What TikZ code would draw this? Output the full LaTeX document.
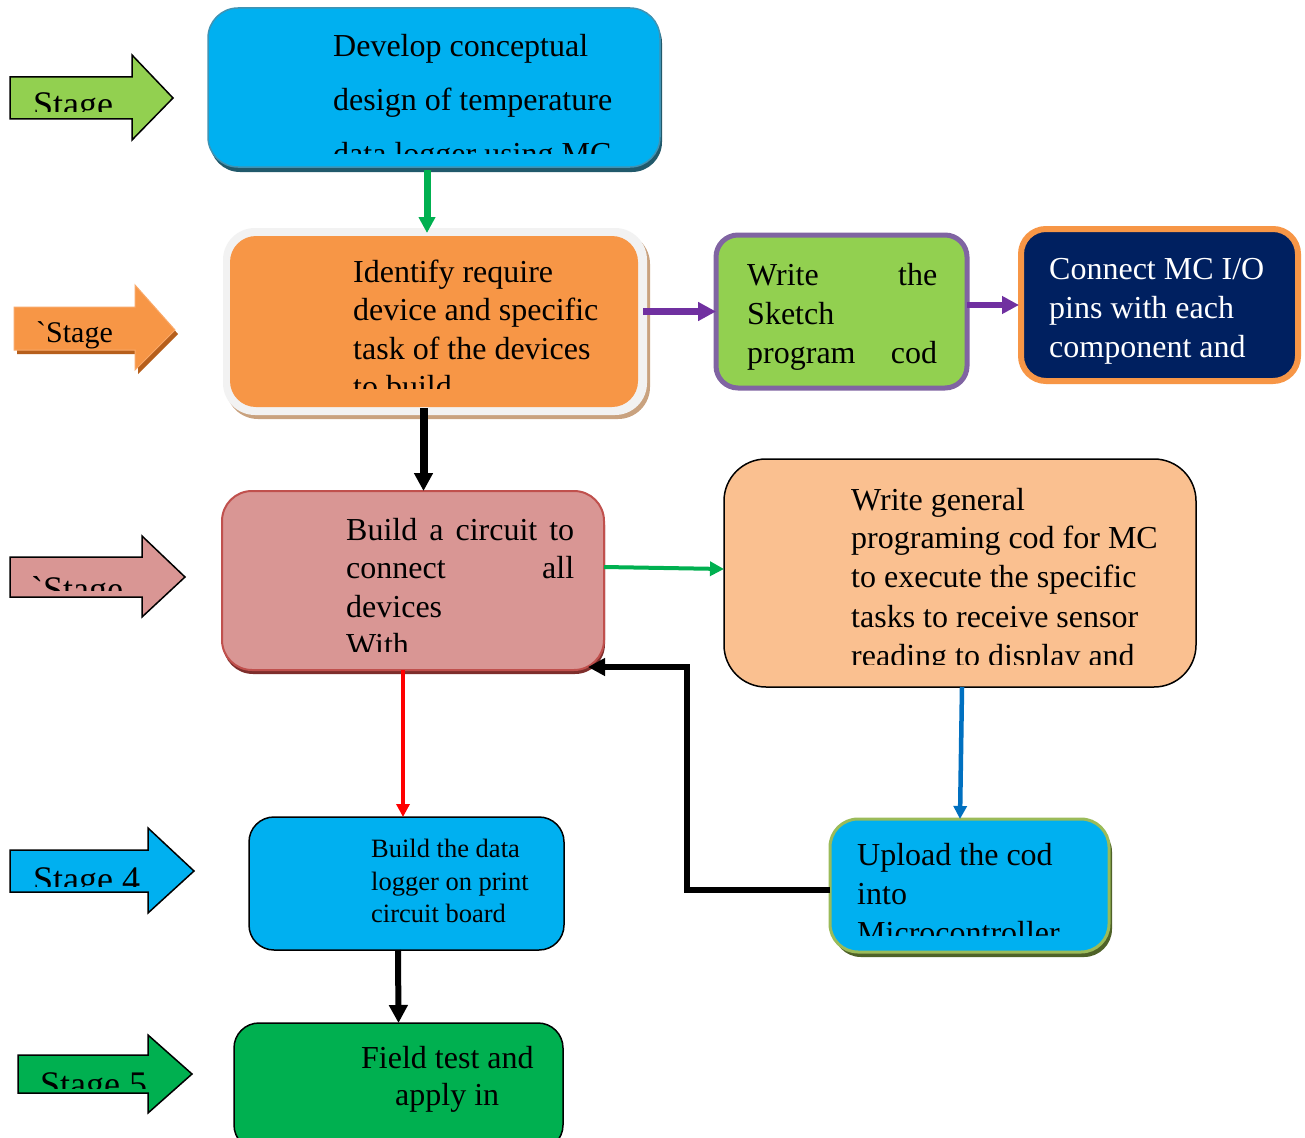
\documentclass[tikz,border=0pt]{standalone}
\usepackage{fontspec}
\newfontfamily\tnr{Liberation Serif}
\usetikzlibrary{arrows.meta,shadows}
\definecolor{cblue}{HTML}{00B0F0}
\definecolor{lgreen}{HTML}{92D050}
\definecolor{corange}{HTML}{F79646}
\definecolor{cpink}{HTML}{D99694}
\definecolor{dgreen}{HTML}{00B050}
\definecolor{cnavy}{HTML}{002060}
\definecolor{lorange}{HTML}{FAC090}
\definecolor{cpurpleb}{HTML}{8064A2}
\definecolor{credb}{HTML}{C0504D}
\definecolor{colive}{HTML}{9BBB59}
\definecolor{cpurple}{HTML}{7030A0}
\definecolor{cblue2}{HTML}{0070C0}
\definecolor{b1edge}{HTML}{3F93B4}
\definecolor{b1shad}{HTML}{21596B}
\definecolor{b2shad}{HTML}{C9A27F}
\definecolor{b5shad}{HTML}{7E2E2C}
\definecolor{b9shad}{HTML}{4F6228}
\definecolor{a2shad}{HTML}{B65F1C}
\definecolor{a2edge}{HTML}{F9A96A}
\definecolor{wedge}{HTML}{F2F2F2}
\begin{document}
\begin{tikzpicture}[x=1pt,y=-1pt,
  txt/.style={font=\tnr\fontsize{32}{38}\selectfont, inner sep=0pt, anchor=base west},
  smtxt/.style={font=\tnr\fontsize{26.5}{32}\selectfont, inner sep=0pt, anchor=base west},
  stxt/.style={font=\tnr\fontsize{36}{40}\selectfont, inner sep=0pt, anchor=base west},
  box/.style={shape=rectangle, inner sep=0pt, outer sep=0pt},
  sarrow/.style={draw=black, line width=1.5pt, line join=miter},
  tip/.style={-{Triangle[length=#1, width=#1]}},
]
\clip (0,0) rectangle (1305,1137);
\fill[white] (0,0) rectangle (1305,1137);

% ---------- stage arrows ----------
\path[sarrow, fill=lgreen] (10,77) -- (132,77) -- (132,55) -- (173,98) -- (132,140) -- (132,119) -- (10,119) -- cycle;
\begin{scope}\clip (10,60) rectangle (180,112);
\node[stxt] (s1) at (33,117) {Stage};
\end{scope}

\fill[a2shad] (17,311) -- (138,311) -- (138,289) -- (178,334) -- (138,374) -- (138,354) -- (17,354) -- cycle;
\path[draw=a2edge, line width=1pt, fill=corange] (14,307) -- (135,307) -- (135,285) -- (175,330) -- (135,370) -- (135,350) -- (14,350) -- cycle;
\node[font=\tnr\fontsize{30}{34}\selectfont, inner sep=0pt, anchor=base west] (s2) at (36,342) {`Stage};

\path[sarrow, fill=cpink] (10,557) -- (142,557) -- (142,536) -- (185,577) -- (142,617) -- (142,597) -- (10,597) -- cycle;
\begin{scope}\clip (10,540) rectangle (190,590);
\node[stxt] (s3) at (31,601) {`Stage};
\end{scope}

\path[sarrow, fill=cblue] (10,850) -- (148,850) -- (148,828) -- (194,871) -- (148,913) -- (148,892) -- (10,892) -- cycle;
\begin{scope}\clip (10,830) rectangle (200,886);
\node[stxt] (s4) at (33,891) {Stage 4};
\end{scope}

\path[sarrow, fill=dgreen] (18,1055) -- (148,1055) -- (148,1035) -- (192,1074) -- (148,1113) -- (148,1093) -- (18,1093) -- cycle;
\begin{scope}\clip (18,1040) rectangle (200,1088);
\node[stxt] (s5) at (40,1096) {Stage 5};
\end{scope}

% ---------- boxes ----------
\node[box, rounded corners=30pt, fill=cblue, draw=b1edge, line width=1.5pt,
  drop shadow={shadow xshift=2pt, shadow yshift=-5pt, fill=b1shad, opacity=1},
  minimum width=452pt, minimum height=159pt] (b1) at (434,87.5) {};
\node[box, rounded corners=32pt, fill=wedge,
  drop shadow={shadow xshift=3pt, shadow yshift=-4pt, fill=b2shad, opacity=1},
  minimum width=424pt, minimum height=187pt] (b2o) at (435,321.5) {};
\node[box, rounded corners=26pt, fill=corange,
  minimum width=408pt, minimum height=171pt] (b2i) at (434,321.5) {};
\node[box, rounded corners=22pt, fill=lgreen, draw=cpurpleb, line width=5pt,
  minimum width=251pt, minimum height=153pt] (b3) at (841.5,311.5) {};
\node[box, rounded corners=25pt, fill=cnavy, draw=corange, line width=6pt,
  minimum width=277pt, minimum height=152pt] (b4) at (1159.5,305) {};
\node[box, rounded corners=30pt, fill=cpink, draw=credb, line width=2pt,
  drop shadow={shadow xshift=1pt, shadow yshift=-4pt, fill=b5shad, opacity=1},
  minimum width=382pt, minimum height=179pt] (b5) at (413,580.5) {};
\node[box, rounded corners=42pt, fill=lorange, draw=black, line width=1.5pt,
  minimum width=472pt, minimum height=228pt] (b6) at (960,573) {};
\node[box, rounded corners=25pt, fill=cblue, draw=black, line width=1.5pt,
  minimum width=315pt, minimum height=133pt] (b7) at (406.5,883.5) {};
\node[box, rounded corners=25pt, fill=dgreen, draw=black, line width=1.5pt,
  minimum width=329pt, minimum height=127pt] (b8) at (398.5,1086.5) {};
\node[box, rounded corners=28pt, fill=cblue, draw=colive, line width=3pt,
  drop shadow={shadow xshift=3pt, shadow yshift=-5pt, fill=b9shad, opacity=1},
  minimum width=279pt, minimum height=133pt] (b9) at (969.5,885.5) {};

% ---------- box texts ----------
\begin{scope}\clip (208,8) rectangle (660,153);
\node[txt] (t1a) at (333,57) {Develop conceptual};
\node[txt] (t1b) at (333,110.5) {design of temperature};
\node[txt] (t1c) at (333,164) {data logger using MC};
\end{scope}

\begin{scope}\clip (230,236) rectangle (638,388);
\node[txt] (t2a) at (353,282) {Identify require};
\node[txt] (t2b) at (353,320.5) {device and specific};
\node[txt] (t2c) at (353,359) {task of the devices};
\node[txt] (t2d) at (353,397.5) {to build};
\end{scope}

\node[txt] (t3a) at (747,285) {\hbox to 190pt{Write\hfill the}};
\node[txt] (t3b) at (747,324) {Sketch};
\node[txt] (t3c) at (747,363) {\hbox to 190pt{program\hfill cod}};

\node[txt, text=white] (t4a) at (1049,279) {Connect MC I/O};
\node[txt, text=white] (t4b) at (1049,318) {pins with each};
\node[txt, text=white] (t4c) at (1049,357) {component and};

\begin{scope}\clip (222,491) rectangle (604,651);
\node[txt] (t5a) at (346,540) {\hbox to 228pt{Build\hfill a\hfill circuit\hfill to}};
\node[txt] (t5b) at (346,578.5) {\hbox to 228pt{connect\hfill all}};
\node[txt] (t5c) at (346,617) {devices};
\node[txt] (t5d) at (346,655.5) {With};
\end{scope}

\begin{scope}\clip (724,459) rectangle (1196,664);
\node[txt] (t6a) at (851,510) {Write general};
\node[txt] (t6b) at (851,548.5) {programing cod for MC};
\node[txt] (t6c) at (851,587.5) {to execute the specific};
\node[txt] (t6d) at (851,627) {tasks to receive sensor};
\node[txt] (t6e) at (851,666) {reading to display and};
\end{scope}

\node[smtxt] (t7a) at (371,857) {Build the data};
\node[smtxt] (t7b) at (371,890) {logger on print};
\node[smtxt] (t7c) at (371,922) {circuit board};

\node[txt] (t8a) at (361,1068) {Field test and};
\node[txt] (t8b) at (395,1105) {apply in};

\begin{scope}\clip (830,819) rectangle (1109,935);
\node[txt] (t9a) at (857,865) {Upload the cod};
\node[txt] (t9b) at (857,904) {into};
\node[txt] (t9c) at (857,943) {Microcontroller};
\end{scope}

% ---------- connectors ----------
\draw[dgreen, line width=7pt, tip=16pt] ([xshift=-7pt, yshift=-3pt]b1.south) -- ([xshift=-7pt, yshift=3pt]b2i.north);
\draw[cpurple, line width=7pt, tip=18pt] ([xshift=-4pt]b2o.east |- b3.west) -- (b3.west);
\draw[cpurple, line width=6pt, tip=17pt] (b3.east |- b4.west) -- ([xshift=-2pt]b4.west);
\draw[black, line width=8pt, tip=18pt] ([xshift=-11.5pt, yshift=7pt]b2o.south) -- ([xshift=10.5pt]b5.north);
\draw[dgreen, line width=4pt, tip=14pt] ([yshift=13.5pt]b5.east) -- ([yshift=4pt]b6.west);
\draw[red, line width=4.5pt, tip=13pt] ([xshift=-10pt]b5.south) -- ([xshift=-3.5pt]b7.north);
\draw[cblue2, line width=4.5pt, tip=13pt] ([xshift=2pt]b6.south) -- ([xshift=-9.5pt]b9.north);
\coordinate (b5c) at (588,667);
\draw[black, line width=6pt, tip=17pt] ([yshift=-4.5pt]b9.west) -- ++(-143,0) |- (b5c);
\draw[black, line width=6pt, tip=18pt] ([xshift=-8.5pt]b7.south) -- (b8.north);
\end{tikzpicture}
\end{document}
